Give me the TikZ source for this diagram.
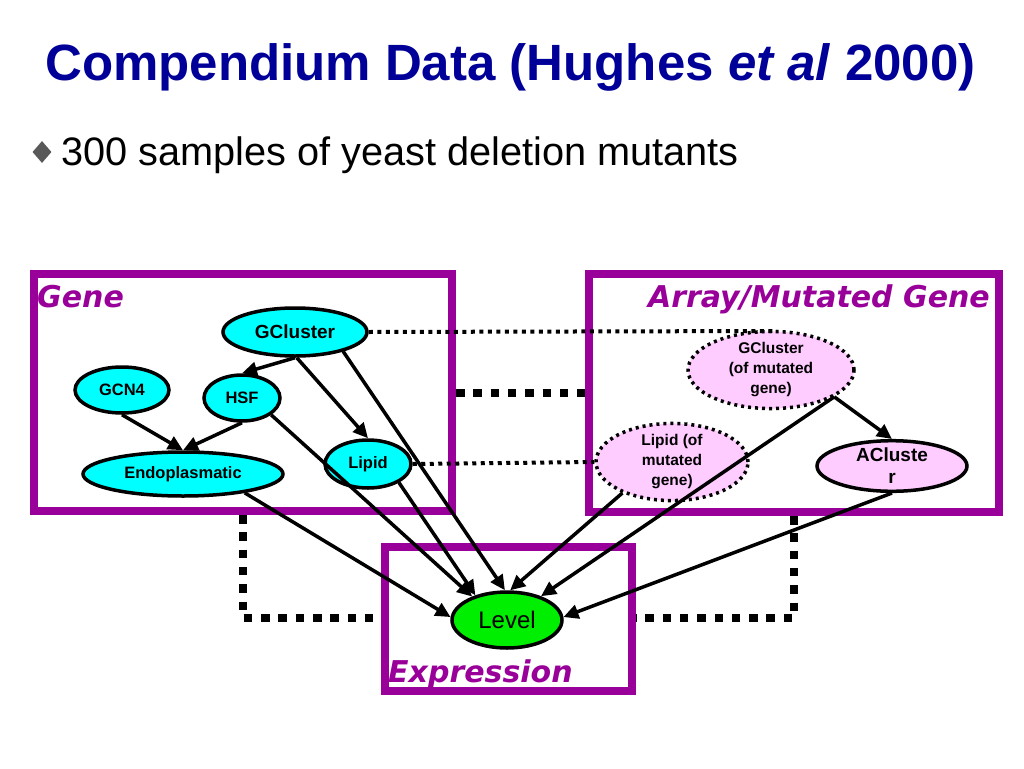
\documentclass[tikz,border=0pt]{standalone}
\usepackage{fontspec}
\setmainfont{Liberation Sans}
\newfontfamily\labfont{DejaVu Sans}
\usetikzlibrary{shapes.geometric,arrows.meta}
\definecolor{boxpurple}{HTML}{990099}
\definecolor{titleblue}{HTML}{000099}
\definecolor{gcyan}{HTML}{00FFFF}
\definecolor{gpink}{HTML}{FFCCFF}
\definecolor{ggreen}{HTML}{00EE00}
\tikzset{
  regionbox/.style={draw=boxpurple,line width=8.5pt},
  regionlabel/.style={text=boxpurple,font=\labfont\bfseries\itshape\fontsize{30}{30}\selectfont,inner sep=0pt},
  genenode/.style={ellipse,draw=black,line width=3.5pt,fill=gcyan,inner sep=0pt,font=\bfseries\fontsize{16.5}{19}\selectfont,align=center},
  mutnode/.style={ellipse,draw=black,line width=3.5pt,dash pattern=on 3pt off 4pt,fill=gpink,inner sep=0pt,font=\bfseries\fontsize{15.5}{20}\selectfont,align=center},
  acnode/.style={ellipse,draw=black,line width=3.5pt,fill=gpink,inner sep=0pt,font=\bfseries\fontsize{19}{22}\selectfont,align=center},
  levelnode/.style={ellipse,draw=black,line width=3.5pt,fill=ggreen,inner sep=0pt,font=\fontsize{24}{24}\selectfont},
  edge/.style={line width=3.5pt,-{Triangle[length=15pt,width=14pt]}},
  thindot/.style={line width=4pt,dash pattern=on 4pt off 4.5pt},
  thickdot/.style={line width=8.5pt,dash pattern=on 8.5pt off 8.8pt}
}
\begin{document}
\begin{tikzpicture}[x=1pt,y=-1pt]
\useasboundingbox[fill=white] (0,0) rectangle (1024,768);
% title
\node[anchor=base west,inner sep=0pt,text=titleblue,font=\bfseries\fontsize{51}{51}\selectfont] (title) at (45,81) {Compendium Data (Hughes \textit{et al} 2000)};
% bullet
\node[diamond,fill=black!65,minimum width=19pt,minimum height=22pt,inner sep=0pt] (bul) at (42,152) {};
\node[anchor=base west,inner sep=0pt,font=\fontsize{39.7}{40}\selectfont] (bultext) at (61,165) {300 samples of yeast deletion mutants};
% thick dotted connections between regions
\draw[thickdot] (456,393) -- (585,393);
\draw[thickdot] (243,515) -- (243,618) -- (381,618);
\draw[thickdot] (794,516) -- (794,618) -- (636,618);
% region boxes
\draw[regionbox] (34,274) rectangle (452,511);
\draw[regionbox] (589,274) rectangle (999,512);
\draw[regionbox] (385,547) rectangle (632,691);
\node[regionlabel,anchor=base west] (genelab) at (37,307) {Gene};
\node[regionlabel,anchor=base east] (arraylab) at (990,307) {Array/Mutated Gene};
\node[regionlabel,anchor=base west] (exprlab) at (388,682) {Expression};
% gene nodes
\node[genenode,minimum width=144pt,minimum height=48pt,font=\bfseries\fontsize{19}{22}\selectfont] (gc) at (295,332) {GCluster};
\node[genenode,minimum width=94pt,minimum height=46pt] (gcn) at (122,390) {GCN4};
\node[genenode,minimum width=76pt,minimum height=46pt] (hsf) at (242,398) {HSF};
\node[genenode,minimum width=200pt,minimum height=44pt] (endo) at (183,474) {Endoplasmatic};
\node[genenode,minimum width=86pt,minimum height=48pt] (lip) at (368,464) {Lipid};
% array nodes
\node[mutnode,minimum width=166pt,minimum height=66pt] (gm) at (771,370) {GCluster\\(of mutated\\gene)};
\node[mutnode,minimum width=152pt,minimum height=74pt] (lm) at (672,462) {Lipid (of\\mutated\\gene)};
\node[acnode,minimum width=150pt,minimum height=48pt] (ac) at (892,466) {ACluste\\r};
% level
\node[levelnode,minimum width=110pt,minimum height=56pt] (lev) at (507,620) {Level};
% thin dotted links
\coordinate (gmtop) at (777,331);
\draw[thindot] (gc.east) -- (gmtop);
\draw[thindot] (lip.east) -- (lm.west);
% arrows
\draw[edge] (gc.-90) -- (hsf.north);
\draw[edge] (gc.-86) -- (lip.north);
\draw[edge] (gc.-22) -- (lev.94);
\draw[edge] (gcn.south) -- (endo.north);
\draw[edge] (hsf.south) -- (endo.north);
\draw[edge] (hsf.-30) -- (lev.146);
\draw[edge] (endo.-17) -- (lev.177);
\draw[edge] (lip.-31) -- (lev.142);
\draw[edge] (gm.-23) -- (ac.north);
\draw[edge] (gm.-23) -- (lev.35);
\draw[edge] (lm.212) -- (lev.84);
\draw[edge] (ac.south) -- (lev.3);
\end{tikzpicture}
\end{document}
